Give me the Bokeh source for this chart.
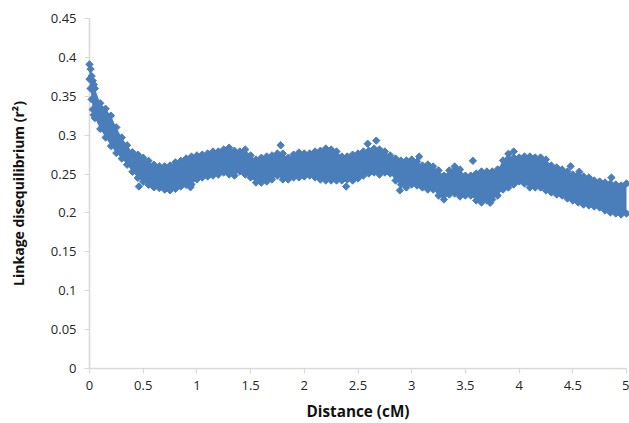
from math import pi
from bokeh.plotting import figure
from bokeh.models import FixedTicker
from bokeh.embed import file_html
from bokeh.resources import INLINE

distance = [0.00, 0.01, 0.02, 0.03, 0.04, 0.05, 0.10, 0.15, 0.20, 0.25, 0.30, 0.35, 0.40, 0.45, 0.50, 0.55, 0.60, 0.65, 0.70, 0.75,
            0.80, 0.85, 0.90, 0.95, 1.00, 1.05, 1.10, 1.15, 1.20, 1.25, 1.30, 1.35, 1.40, 1.45, 1.50, 1.55, 1.60, 1.65, 1.70, 1.75,
            1.80, 1.85, 1.90, 1.95, 2.00, 2.05, 2.10, 2.15, 2.20, 2.25, 2.30, 2.35, 2.40, 2.45, 2.50, 2.55, 2.60, 2.65, 2.70, 2.75,
            2.80, 2.85, 2.90, 2.95, 3.00, 3.05, 3.10, 3.15, 3.20, 3.25, 3.30, 3.35, 3.40, 3.45, 3.50, 3.55, 3.60, 3.65, 3.70, 3.75,
            3.80, 3.85, 3.90, 3.95, 4.00, 4.05, 4.10, 4.15, 4.20, 4.25, 4.30, 4.35, 4.40, 4.45, 4.50, 4.55, 4.60, 4.65, 4.70, 4.75,
            4.80, 4.85, 4.90, 4.95, 5.00]
upper_r2 = [0.391, 0.385, 0.376, 0.370, 0.365, 0.360, 0.341, 0.334, 0.325, 0.310, 0.297, 0.287, 0.278, 0.275, 0.271, 0.267, 0.262, 0.260, 0.260, 0.261,
            0.265, 0.267, 0.270, 0.2725, 0.274, 0.275, 0.2764, 0.279, 0.279, 0.2816, 0.284, 0.280, 0.279, 0.2816, 0.274, 0.2687, 0.271, 0.2726, 0.274, 0.2764,
            0.2764, 0.271, 0.275, 0.2777, 0.2764, 0.2764, 0.279, 0.280, 0.2828, 0.2816, 0.279, 0.2726, 0.2726, 0.275, 0.2764, 0.279, 0.280, 0.2828, 0.2816, 0.279,
            0.274, 0.270, 0.2674, 0.2674, 0.2687, 0.266, 0.261, 0.2623, 0.2597, 0.2546, 0.248, 0.2546, 0.2597, 0.2559, 0.248, 0.248, 0.2507, 0.2533, 0.2533, 0.2533,
            0.2559, 0.2674, 0.270, 0.2713, 0.2713, 0.2726, 0.2726, 0.2713, 0.2713, 0.2687, 0.261, 0.2584, 0.2559, 0.2533, 0.2494, 0.248, 0.2469, 0.2456, 0.2417, 0.2404,
            0.2391, 0.2378, 0.2366, 0.2353, 0.2378]
lower_r2 = [0.372, 0.360, 0.346, 0.333, 0.326, 0.322, 0.308, 0.297, 0.286, 0.277, 0.270, 0.262, 0.253, 0.245, 0.240, 0.236, 0.233, 0.232, 0.230, 0.229,
            0.231, 0.234, 0.236, 0.2366, 0.243, 0.2456, 0.2469, 0.248, 0.2494, 0.252, 0.2494, 0.248, 0.2533, 0.2494, 0.2456, 0.239, 0.239, 0.2404, 0.243, 0.248,
            0.243, 0.243, 0.2456, 0.2456, 0.2469, 0.248, 0.2456, 0.243, 0.2417, 0.2417, 0.2417, 0.2417, 0.243, 0.2417, 0.2443, 0.248, 0.2507, 0.252, 0.2494, 0.252,
            0.2507, 0.2417, 0.2366, 0.2327, 0.2366, 0.2353, 0.2327, 0.230, 0.230, 0.2224, 0.2173, 0.2237, 0.225, 0.2211, 0.2224, 0.2224, 0.216, 0.2134, 0.216, 0.2173,
            0.2224, 0.230, 0.2327, 0.2366, 0.2404, 0.2378, 0.2327, 0.2327, 0.2327, 0.2289, 0.2263, 0.2237, 0.2224, 0.2186, 0.216, 0.2134, 0.2108, 0.2096, 0.2083, 0.207,
            0.2031, 0.2006, 0.1993, 0.198, 0.1993]
stray_distance = [0.46, 0.94, 1.78, 2.39, 2.59, 2.67, 2.89, 3.07, 3.57, 3.73, 3.90, 3.95, 4.48, 4.56, 4.86]
stray_r2 = [0.234, 0.233, 0.287, 0.234, 0.289, 0.293, 0.229, 0.2725, 0.267, 0.213, 0.276, 0.279, 0.260, 0.253, 0.2455]
x_ticks = [0, 0.5, 1, 1.5, 2, 2.5, 3, 3.5, 4, 4.5, 5]
x_labels = ["0", "0.5", "1", "1.5", "2", "2.5", "3", "3.5", "4", "4.5", "5"]
y_ticks = [0, 0.05, 0.1, 0.15, 0.2, 0.25, 0.3, 0.35, 0.4, 0.45]
y_labels = ["0", "0.05", "0.1", "0.15", "0.2", "0.25", "0.3", "0.35", "0.4", "0.45"]

BLUE = "#4a7ebb"
GREY = "#d9d9d9"
INK = "#262626"

p = figure(width=629, height=423, output_backend="svg", toolbar_location=None,
           x_range=(0, 5), y_range=(0, 0.45),
           min_border_left=89, min_border_right=3, min_border_top=18, min_border_bottom=55)
p.frame_width = 537
p.frame_height = 350
p.grid.visible = False
p.outline_line_color = None
p.background_fill_color = "white"

p.varea(distance, lower_r2, upper_r2, fill_color=BLUE, level="overlay")
for ys in (upper_r2, lower_r2):
    p.scatter(distance, ys, marker="square", angle=pi / 4, size=5.2, color=BLUE, level="overlay")
p.scatter(stray_distance, stray_r2, marker="square", angle=pi / 4, size=5.2, color=BLUE, level="overlay")

for ax, ticks, labels in ((p.xaxis[0], x_ticks, x_labels), (p.yaxis[0], y_ticks, y_labels)):
    ax.ticker = FixedTicker(ticks=ticks)
    ax.major_label_overrides = dict(zip(ticks, labels))
    ax.axis_line_color = GREY
    ax.axis_line_width = 1.6
    ax.major_tick_line_color = GREY
    ax.major_tick_line_width = 1.2
    ax.major_tick_out = 5
    ax.major_tick_in = 0
    ax.minor_tick_line_color = None
    ax.major_label_text_font = "Open Sans"
    ax.major_label_text_font_size = "13px"
    ax.major_label_text_color = INK
    ax.axis_label_text_font = "Open Sans"
    ax.axis_label_text_font_style = "bold"
    ax.axis_label_text_font_size = "14px"
    ax.axis_label_text_color = "#111111"

p.xaxis[0].axis_label = "Distance (cM)"
p.xaxis[0].axis_label_text_font_size = "15.3px"
p.yaxis[0].axis_label = "Linkage disequilibrium (r²)"
p.xaxis[0].major_label_standoff = 7
p.xaxis[0].axis_label_standoff = 8
p.yaxis[0].major_label_standoff = 8
p.yaxis[0].axis_label_standoff = 20

open("out.html", "w").write(file_html(p, INLINE))
